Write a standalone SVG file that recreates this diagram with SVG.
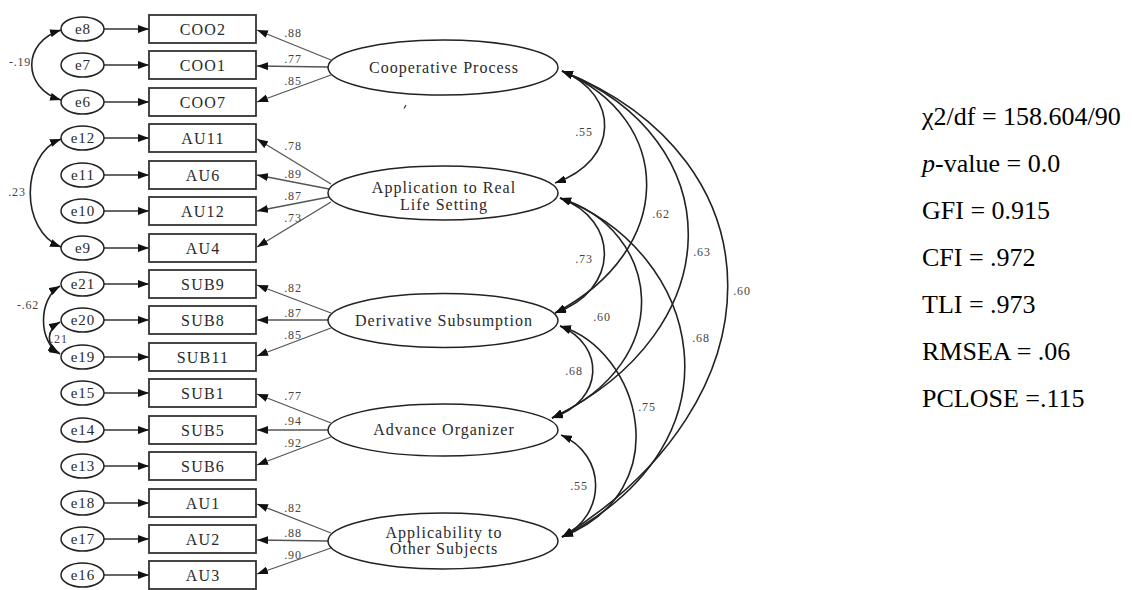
<svg xmlns="http://www.w3.org/2000/svg" width="1132" height="590" viewBox="0 0 1132 590">
<style>
  .bg{fill:#fff}
  .err{fill:#fff;stroke:#222;stroke-width:1.5}
  .box{fill:#fff;stroke:#333;stroke-width:1.8}
  .lat{fill:#fff;stroke:#222;stroke-width:1.5}
  .t{font-family:"Liberation Serif","Times New Roman",serif;fill:#2a2a2a;text-anchor:middle}
  .et{font-size:15px;letter-spacing:1px}
  .bt{font-size:16px;letter-spacing:1.2px}
  .lt{font-size:16px;letter-spacing:1px}
  .nt{font-size:12px;letter-spacing:0.8px;fill:#444}
  .st{font-family:"Liberation Serif","Times New Roman",serif;font-size:26px;fill:#000}
  .ln{fill:none;stroke:#333;stroke-width:1.3}
  .ld{fill:none;stroke:#555;stroke-width:1.3}
  .cv{fill:none;stroke:#222;stroke-width:1.6}
</style>
<defs>
  <marker id="ah" markerUnits="userSpaceOnUse" markerWidth="11" markerHeight="8" refX="11" refY="4" orient="auto-start-reverse">
    <path d="M0,0 L11,4 L0,8 z" fill="#111"/>
  </marker>
</defs>
<rect class="bg" x="0" y="0" width="1132" height="590"/>

<g id="connectors">
  <!-- error to indicator -->
  <path class="ln" d="M104,29 L149,29" marker-end="url(#ah)"/>
  <path class="ln" d="M104,65 L149,65" marker-end="url(#ah)"/>
  <path class="ln" d="M104,102 L149,102" marker-end="url(#ah)"/>
  <path class="ln" d="M104,138 L149,138" marker-end="url(#ah)"/>
  <path class="ln" d="M104,175 L149,175" marker-end="url(#ah)"/>
  <path class="ln" d="M104,211 L149,211" marker-end="url(#ah)"/>
  <path class="ln" d="M104,248 L149,248" marker-end="url(#ah)"/>
  <path class="ln" d="M104,284 L149,284" marker-end="url(#ah)"/>
  <path class="ln" d="M104,320 L149,320" marker-end="url(#ah)"/>
  <path class="ln" d="M104,357 L149,357" marker-end="url(#ah)"/>
  <path class="ln" d="M104,393 L149,393" marker-end="url(#ah)"/>
  <path class="ln" d="M104,430 L149,430" marker-end="url(#ah)"/>
  <path class="ln" d="M104,466 L149,466" marker-end="url(#ah)"/>
  <path class="ln" d="M104,503 L149,503" marker-end="url(#ah)"/>
  <path class="ln" d="M104,539 L149,539" marker-end="url(#ah)"/>
  <path class="ln" d="M104,575 L149,575" marker-end="url(#ah)"/>

  <!-- loadings -->
  <path class="ld" d="M331,60 L257,30" marker-end="url(#ah)"/>
  <path class="ld" d="M328,67 L257,66" marker-end="url(#ah)"/>
  <path class="ld" d="M331,75 L257,102" marker-end="url(#ah)"/>

  <path class="ld" d="M331,184 L257,139" marker-end="url(#ah)"/>
  <path class="ld" d="M329,189 L257,175" marker-end="url(#ah)"/>
  <path class="ld" d="M329,197 L257,211" marker-end="url(#ah)"/>
  <path class="ld" d="M331,202 L257,247" marker-end="url(#ah)"/>

  <path class="ld" d="M331,313 L257,285" marker-end="url(#ah)"/>
  <path class="ld" d="M328,320 L257,320" marker-end="url(#ah)"/>
  <path class="ld" d="M331,328 L257,356" marker-end="url(#ah)"/>

  <path class="ld" d="M331,423 L257,394" marker-end="url(#ah)"/>
  <path class="ld" d="M328,430 L257,430" marker-end="url(#ah)"/>
  <path class="ld" d="M331,437 L257,465" marker-end="url(#ah)"/>

  <path class="ld" d="M331,533 L257,504" marker-end="url(#ah)"/>
  <path class="ld" d="M328,541 L257,540" marker-end="url(#ah)"/>
  <path class="ld" d="M331,548 L257,574" marker-end="url(#ah)"/>

  <!-- error covariances -->
  <path class="cv" d="M61,30 C22,42 22,88 61,100" marker-start="url(#ah)" marker-end="url(#ah)"/>
  <path class="cv" d="M61,139 C20,155 20,231 61,247" marker-start="url(#ah)" marker-end="url(#ah)"/>
  <path class="cv" d="M60,286 C38,299 38,342 60,354" marker-start="url(#ah)" marker-end="url(#ah)"/>
  <path class="cv" d="M60,322 C46,330 46,345 59,353" marker-start="url(#ah)" marker-end="url(#ah)"/>

  <!-- factor covariances -->
  <path class="cv" d="M562,71 C620,95 620,160 555,183" marker-start="url(#ah)" marker-end="url(#ah)"/>
  <path class="cv" d="M562,71 C676,120 676,250 555,313" marker-start="url(#ah)" marker-end="url(#ah)"/>
  <path class="cv" d="M562,71 C732,140 732,330 552,418" marker-start="url(#ah)" marker-end="url(#ah)"/>
  <path class="cv" d="M562,71 C783,160 783,400 562,537" marker-start="url(#ah)" marker-end="url(#ah)"/>
  <path class="cv" d="M560,198 C620,220 620,290 555,313" marker-start="url(#ah)" marker-end="url(#ah)"/>
  <path class="cv" d="M560,198 C660,230 680,360 552,418" marker-start="url(#ah)" marker-end="url(#ah)"/>
  <path class="cv" d="M560,198 C700,250 750,440 562,537" marker-start="url(#ah)" marker-end="url(#ah)"/>
  <path class="cv" d="M560,326 C605,345 605,400 552,418" marker-start="url(#ah)" marker-end="url(#ah)"/>
  <path class="cv" d="M560,326 C640,350 680,490 562,537" marker-start="url(#ah)" marker-end="url(#ah)"/>
  <path class="cv" d="M561,435 C607,455 607,515 562,537" marker-start="url(#ah)" marker-end="url(#ah)"/>
</g>

<g id="connector-labels">
  <text class="t nt" x="293" y="37">.88</text>
  <text class="t nt" x="293" y="63">.77</text>
  <text class="t nt" x="293" y="85">.85</text>
  <text class="t nt" x="293" y="150">.78</text>
  <text class="t nt" x="293" y="178">.89</text>
  <text class="t nt" x="293" y="200">.87</text>
  <text class="t nt" x="293" y="222">.73</text>
  <text class="t nt" x="293" y="292">.82</text>
  <text class="t nt" x="293" y="317">.87</text>
  <text class="t nt" x="293" y="339">.85</text>
  <text class="t nt" x="293" y="400">.77</text>
  <text class="t nt" x="293" y="425">.94</text>
  <text class="t nt" x="293" y="447">.92</text>
  <text class="t nt" x="293" y="512">.82</text>
  <text class="t nt" x="293" y="537">.88</text>
  <text class="t nt" x="293" y="559">.90</text>

  <text class="t nt" x="20" y="66">-.19</text>
  <text class="t nt" x="17" y="196">.23</text>
  <text class="t nt" x="28" y="309">-.62</text>
  <text class="t nt" x="59" y="343">.21</text>

  <text class="t nt" x="584" y="136">.55</text>
  <text class="t nt" x="661" y="218">.62</text>
  <text class="t nt" x="702" y="256">.63</text>
  <text class="t nt" x="742" y="295">.60</text>
  <text class="t nt" x="584" y="263">.73</text>
  <text class="t nt" x="602" y="321">.60</text>
  <text class="t nt" x="701" y="342">.68</text>
  <text class="t nt" x="574" y="375">.68</text>
  <text class="t nt" x="647" y="411">.75</text>
  <text class="t nt" x="579" y="490">.55</text>
</g>

<g id="e8"><ellipse class="err" cx="82.5" cy="29" rx="21.5" ry="12"/><text class="t et" x="83" y="34">e8</text></g>
<g id="e7"><ellipse class="err" cx="82.5" cy="65" rx="21.5" ry="12"/><text class="t et" x="83" y="70">e7</text></g>
<g id="e6"><ellipse class="err" cx="82.5" cy="102" rx="21.5" ry="12"/><text class="t et" x="83" y="107">e6</text></g>
<g id="e12"><ellipse class="err" cx="82.5" cy="138" rx="21.5" ry="12"/><text class="t et" x="83" y="143">e12</text></g>
<g id="e11"><ellipse class="err" cx="82.5" cy="175" rx="21.5" ry="12"/><text class="t et" x="83" y="180">e11</text></g>
<g id="e10"><ellipse class="err" cx="82.5" cy="211" rx="21.5" ry="12"/><text class="t et" x="83" y="216">e10</text></g>
<g id="e9"><ellipse class="err" cx="82.5" cy="248" rx="21.5" ry="12"/><text class="t et" x="83" y="253">e9</text></g>
<g id="e21"><ellipse class="err" cx="82.5" cy="284" rx="21.5" ry="12"/><text class="t et" x="83" y="289">e21</text></g>
<g id="e20"><ellipse class="err" cx="82.5" cy="320" rx="21.5" ry="12"/><text class="t et" x="83" y="325">e20</text></g>
<g id="e19"><ellipse class="err" cx="82.5" cy="357" rx="21.5" ry="12"/><text class="t et" x="83" y="362">e19</text></g>
<g id="e15"><ellipse class="err" cx="82.5" cy="393" rx="21.5" ry="12"/><text class="t et" x="83" y="398">e15</text></g>
<g id="e14"><ellipse class="err" cx="82.5" cy="430" rx="21.5" ry="12"/><text class="t et" x="83" y="435">e14</text></g>
<g id="e13"><ellipse class="err" cx="82.5" cy="466" rx="21.5" ry="12"/><text class="t et" x="83" y="471">e13</text></g>
<g id="e18"><ellipse class="err" cx="82.5" cy="503" rx="21.5" ry="12"/><text class="t et" x="83" y="508">e18</text></g>
<g id="e17"><ellipse class="err" cx="82.5" cy="539" rx="21.5" ry="12"/><text class="t et" x="83" y="544">e17</text></g>
<g id="e16"><ellipse class="err" cx="82.5" cy="575" rx="21.5" ry="12"/><text class="t et" x="83" y="580">e16</text></g>

<g id="COO2"><rect class="box" x="149" y="15" width="107" height="28"/><text class="t bt" x="203" y="34.5">COO2</text></g>
<g id="COO1"><rect class="box" x="149" y="51" width="107" height="28"/><text class="t bt" x="203" y="70.5">COO1</text></g>
<g id="COO7"><rect class="box" x="149" y="88" width="107" height="28"/><text class="t bt" x="203" y="107.5">COO7</text></g>
<g id="AU11"><rect class="box" x="149" y="124" width="107" height="28"/><text class="t bt" x="203" y="143.5">AU11</text></g>
<g id="AU6"><rect class="box" x="149" y="161" width="107" height="28"/><text class="t bt" x="203" y="180.5">AU6</text></g>
<g id="AU12"><rect class="box" x="149" y="197" width="107" height="28"/><text class="t bt" x="203" y="216.5">AU12</text></g>
<g id="AU4"><rect class="box" x="149" y="234" width="107" height="28"/><text class="t bt" x="203" y="253.5">AU4</text></g>
<g id="SUB9"><rect class="box" x="149" y="270" width="107" height="28"/><text class="t bt" x="203" y="289.5">SUB9</text></g>
<g id="SUB8"><rect class="box" x="149" y="306" width="107" height="28"/><text class="t bt" x="203" y="325.5">SUB8</text></g>
<g id="SUB11"><rect class="box" x="149" y="343" width="107" height="28"/><text class="t bt" x="203" y="362.5">SUB11</text></g>
<g id="SUB1"><rect class="box" x="149" y="379" width="107" height="28"/><text class="t bt" x="203" y="398.5">SUB1</text></g>
<g id="SUB5"><rect class="box" x="149" y="416" width="107" height="28"/><text class="t bt" x="203" y="435.5">SUB5</text></g>
<g id="SUB6"><rect class="box" x="149" y="452" width="107" height="28"/><text class="t bt" x="203" y="471.5">SUB6</text></g>
<g id="AU1"><rect class="box" x="149" y="489" width="107" height="28"/><text class="t bt" x="203" y="508.5">AU1</text></g>
<g id="AU2"><rect class="box" x="149" y="525" width="107" height="28"/><text class="t bt" x="203" y="544.5">AU2</text></g>
<g id="AU3"><rect class="box" x="149" y="561" width="107" height="28"/><text class="t bt" x="203" y="580.5">AU3</text></g>

<g id="cooperative-process"><ellipse class="lat" cx="443" cy="67.5" rx="115" ry="27.5"/><text class="t lt" x="444" y="72.5">Cooperative Process</text></g>
<g id="application-real-life"><ellipse class="lat" cx="443" cy="193" rx="115" ry="27"/><text class="t lt" x="444" y="192.5">Application to Real</text><text class="t lt" x="444" y="209.5">Life Setting</text></g>
<g id="derivative-subsumption"><ellipse class="lat" cx="443" cy="320.5" rx="115" ry="27"/><text class="t lt" x="444" y="325.5">Derivative Subsumption</text></g>
<g id="advance-organizer"><ellipse class="lat" cx="443" cy="430" rx="115" ry="26"/><text class="t lt" x="444" y="435">Advance Organizer</text></g>
<g id="applicability-other"><ellipse class="lat" cx="443" cy="541" rx="115" ry="28"/><text class="t lt" x="444" y="538">Applicability to</text><text class="t lt" x="444" y="553.5">Other Subjects</text></g>

<path d="M404,108.5 L406,105" fill="none" stroke="#444" stroke-width="1.4"/>

<g id="fit-indices">
  <text class="st" x="922" y="125">χ2/df = 158.604/90</text>
  <text class="st" x="922" y="172"><tspan font-style="italic">p</tspan>-value = 0.0</text>
  <text class="st" x="922" y="219">GFI = 0.915</text>
  <text class="st" x="922" y="266">CFI = .972</text>
  <text class="st" x="922" y="313">TLI = .973</text>
  <text class="st" x="922" y="360">RMSEA = .06</text>
  <text class="st" x="922" y="407">PCLOSE =.115</text>
</g>
</svg>
